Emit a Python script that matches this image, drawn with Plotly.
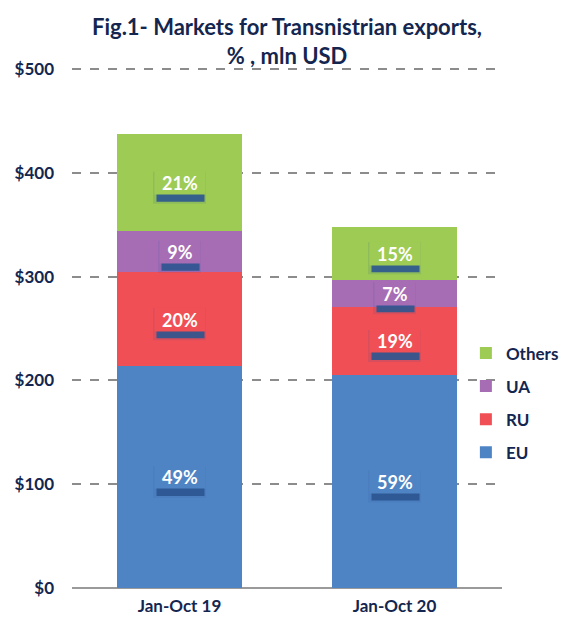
import plotly.graph_objects as go

categories = ["Jan-Oct 19", "Jan-Oct 20"]
series_names = ["EU", "RU", "UA", "Others"]
eu_values = [214, 205]
ru_values = [90, 66]
ua_values = [40, 26]
others_values = [93, 51]
eu_labels = ["49%", "59%"]
ru_labels = ["20%", "19%"]
ua_labels = ["9%", "7%"]
others_labels = ["21%", "15%"]
y_ticks = [0, 100, 200, 300, 400, 500]
y_tick_labels = ["$0", "$100", "$200", "$300", "$400", "$500"]
title_text = "Fig.1- Markets for Transnistrian exports,<br>% , mln USD"

colors = ["#4f84c4", "#f04f55", "#a66db4", "#9dcb53"]
values = [eu_values, ru_values, ua_values, others_values]
labels = [eu_labels, ru_labels, ua_labels, others_labels]

FONT = "Lato"
NAVY = "#14264f"
SHADOW = "#2b5590"

fig = go.Figure()
n = len(series_names)
for k, (name, vals, col) in enumerate(zip(series_names, values, colors)):
    fig.add_trace(go.Bar(
        x=categories, y=vals, name=name, legendgroup=name,
        legendrank=1000 + (n - k),
        marker=dict(color=col, line=dict(width=0)),
        width=0.58,
    ))

annotations = []
shapes = []
base = [0] * len(categories)
for vals, labs, col in zip(values, labels, colors):
    for i, (c, v, lab) in enumerate(zip(categories, vals, labs)):
        mid = base[i] + v / 2
        w = 20 if len(lab) <= 2 else 25
        # faint halo around the label box
        shapes.append(dict(
            type="rect", xref="x", yref="y", layer="above",
            xsizemode="pixel", ysizemode="pixel", xanchor=i, yanchor=mid,
            x0=-w - 1.5, x1=w + 1.5, y0=-21, y1=11,
            fillcolor=SHADOW, opacity=0.12, line=dict(width=0),
        ))
        # shadow beneath the label box
        shapes.append(dict(
            type="rect", xref="x", yref="y", layer="above",
            xsizemode="pixel", ysizemode="pixel", xanchor=i, yanchor=mid,
            x0=-w + 2, x1=w, y0=-19, y1=-8,
            fillcolor=SHADOW, opacity=0.9, line=dict(width=0),
        ))
        annotations.append(dict(
            x=c, y=mid, xref="x", yref="y", text="<b>%s</b>" % lab, showarrow=False,
            font=dict(family=FONT, size=18, color="white"),
            bgcolor=col, width=2 * w, height=23, borderpad=0,
        ))
        base[i] += v

annotations.append(dict(
    x=0.5, y=1.051, xref="paper", yref="paper", xanchor="center", yanchor="middle",
    text="<b>%s</b>" % title_text, showarrow=False,
    font=dict(family=FONT, size=22, color=NAVY),
))

fig.update_layout(
    barmode="stack",
    width=561, height=613,
    margin=dict(l=64, r=67, t=60, b=33, autoexpand=False),
    paper_bgcolor="white", plot_bgcolor="white",
    legend=dict(
        traceorder="grouped", tracegroupgap=8,
        x=0.916, xanchor="left", y=0.356, yanchor="middle",
        font=dict(family=FONT, size=17, color=NAVY, weight="bold"),
        bgcolor="rgba(0,0,0,0)", itemwidth=30,
    ),
    yaxis=dict(
        range=[0, 501], tickvals=y_ticks, ticktext=y_tick_labels,
        showgrid=True, gridcolor="#8c8c8c", griddash="dash", gridwidth=1.5,
        zeroline=True, zerolinecolor="#9a9a9a", zerolinewidth=1.5,
        tickfont=dict(family=FONT, size=17, color=NAVY, weight="bold"),
        ticklabelstandoff=17, showline=False,
    ),
    xaxis=dict(
        tickvals=categories, ticktext=categories,
        tickfont=dict(family=FONT, size=17, color=NAVY, weight="bold"),
        ticklabelstandoff=6, showline=False, showgrid=False,
    ),
    bargap=0.42,
    shapes=shapes,
    annotations=annotations,
)

fig.write_html("out.html")
